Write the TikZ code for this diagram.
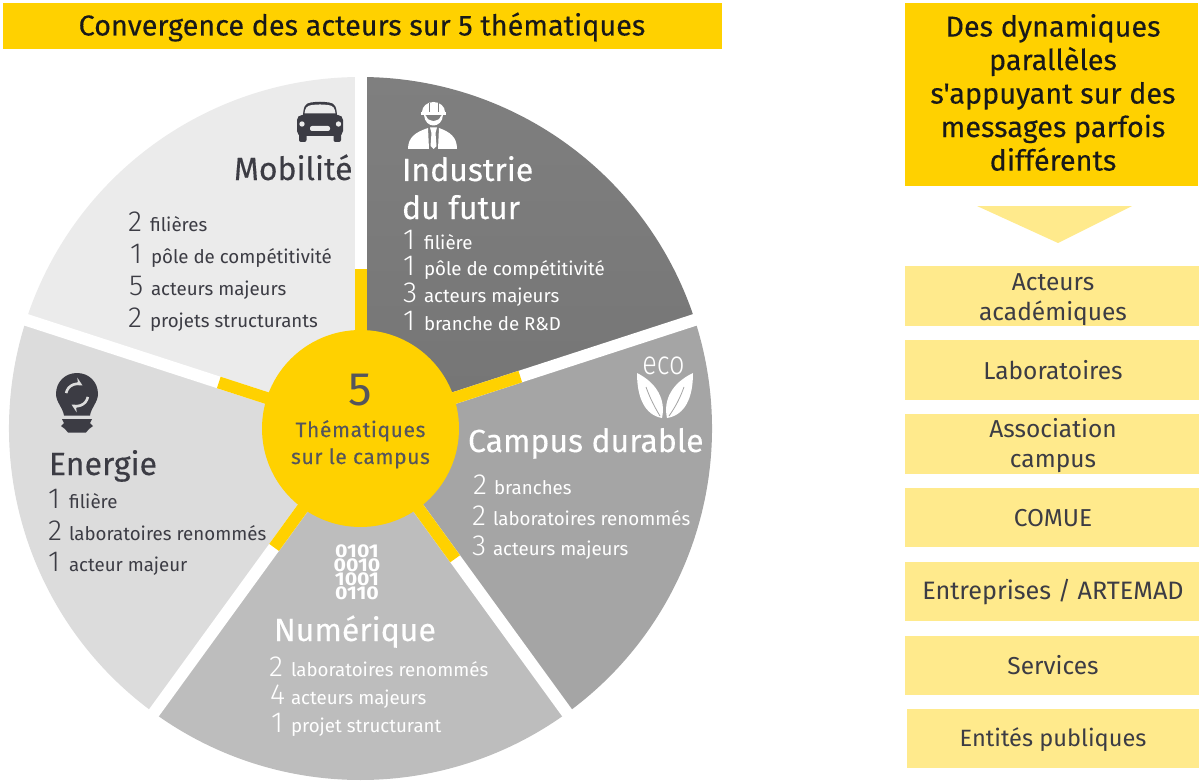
\documentclass[tikz,border=0pt]{standalone}
\usepackage{fontspec}
\setmainfont{Fira Sans}
\newfontfamily\lightf{Fira Sans Light}
\newfontfamily\semif[FakeBold=0.25]{Fira Sans}
\usetikzlibrary{calc}
\definecolor{eyyellow}{HTML}{FFD100}
\definecolor{paleyellow}{HTML}{FFEA8C}
\definecolor{inkgrey}{HTML}{3C3C44}
\definecolor{midink}{HTML}{55555C}
\definecolor{sliceA}{HTML}{EBEBEB}
\definecolor{sliceB}{HTML}{7F7F7F}
\definecolor{sliceBd}{HTML}{757575}
\definecolor{sliceC}{HTML}{A5A5A5}
\definecolor{sliceD}{HTML}{BDBDBD}
\definecolor{sliceE}{HTML}{DCDCDC}
\tikzset{
  every node/.style={inner sep=0pt,outer sep=0pt},
  headbox/.style={fill=eyyellow,draw=none},
  palebox/.style={fill=paleyellow,draw=none},
  boxtext/.style={font=\fontsize{24.5}{30}\selectfont,text=inkgrey,align=center,anchor=center},
  headtext/.style={font=\semif\fontsize{28.8}{33.5}\selectfont,text=black!90,align=center,anchor=center},
  title/.style={font=\semif\fontsize{32}{38}\selectfont,anchor=base west},
  item/.style={font=\fontsize{18.7}{22}\selectfont,anchor=base west},
  numb/.style={font=\lightf\fontsize{29}{30}\selectfont,anchor=base west},
  gapline/.style={draw=white,line width=12pt},
  spoke/.style={draw=eyyellow,line width=12pt},
}
\newcommand{\slice}[4]{\fill[#1] (c) -- ++(#2:351.5) arc[start angle=#2,end angle=#3,radius=351.5] -- cycle;}
\newcommand{\rowitem}[7]{% name, x-number, x-label, baseline, colour, number, label
  \node[numb,text=#5] (#1n) at (#2,#4-1) {#6};
  \node[item,text=#5] (#1t) at (#3,#4-1) {#7};}
\begin{document}
\begin{tikzpicture}[x=1pt,y=-1pt]
\useasboundingbox (0,0) rectangle (1200,781);
\coordinate (c) at (360.5,428.5);
% slices
\shade[top color=sliceB,bottom color=sliceBd] (c) -- ++(-90:351.5) arc[start angle=-90,end angle=-18,radius=351.5] -- cycle;
\slice{sliceC}{-18}{54}{}
\slice{sliceD}{54}{126}{}
\slice{sliceE}{126}{198}{}
\slice{sliceA}{198}{270}{}
% gaps and spokes
\foreach \n/\a/\r in {g1/-90/160,g2/-18/168,g3/54/161,g4/126/147,g5/198/149}{
  \coordinate (\n o) at ($(c)+(\a:356)$);
  \coordinate (\n s) at ($(c)+(\a:\r)$);
  \draw[gapline] (c) -- (\n o);
  \draw[spoke] (c) -- (\n s);
}
\node[circle,fill=eyyellow,minimum size=197pt] (hub) at (c) {};
\node[font=\fontsize{47}{47}\selectfont,text=midink,anchor=base] (five) at (360.5,405) {5};
\node[font=\semif\fontsize{21}{26}\selectfont\addfontfeatures{LetterSpace=3},text=midink,anchor=base] (them) at (360.5,437) {Thématiques};
\node[font=\semif\fontsize{21}{26}\selectfont\addfontfeatures{LetterSpace=3},text=midink,anchor=base] (surl) at (360.5,464) {sur le campus};
% headers
\fill[headbox] (3,3) rectangle (722,49);
\node[headtext] (h1) at (362,27) {Convergence des acteurs sur 5 thématiques};
\fill[headbox] (905,3) rectangle (1198,186);
\node[headtext] (h2) at (1053,92.5) {Des dynamiques\\parallèles\\s'appuyant sur des\\messages parfois\\différents};
\fill[paleyellow] (977,206) -- (1132,206) -- (1058,243) -- cycle;
% right boxes
\foreach \n/\xa/\ya/\yb in {b1/905/266/326,b2/905/340/400,b3/905/414/474,b4/905/488/547,b5/905/562/621,b6/905/636/695,b7/907/709/768}{
  \fill[palebox] (\xa,\ya) rectangle (1199,\yb);
}
\node[boxtext] (t1) at (1053,299.5) {Acteurs\\académiques};
\node[boxtext] (t2) at (1053,370) {Laboratoires};
\node[boxtext] (t3) at (1053,446) {Association\\campus};
\node[boxtext] (t4) at (1053,518) {COMUE};
\node[boxtext,font=\fontsize{25.2}{30}\selectfont] (t5) at (1053,592) {Entreprises / ARTEMAD};
\node[boxtext] (t6) at (1053,665) {Services};
\node[boxtext,font=\fontsize{23.6}{30}\selectfont] (t7) at (1053,740) {Entités publiques};
% Mobilite
\node[title,text=inkgrey] (mob) at (234,180) {Mobilité};
\rowitem{ma}{128}{150}{232}{inkgrey}{2}{filières}
\rowitem{mb}{130}{151}{264}{inkgrey}{1}{pôle de compétitivité}
\rowitem{mc}{129}{151}{296}{inkgrey}{5}{acteurs majeurs}
\rowitem{md}{128}{150}{328}{inkgrey}{2}{projets structurants}
% Industrie
\node[title,text=white] (ind) at (402,181) {Industrie};
\node[title,text=white] (duf) at (402,219) {du futur};
\rowitem{ia}{403}{424}{250}{white}{1}{filière}
\rowitem{ib}{403}{424}{276}{white}{1}{pôle de compétitivité}
\rowitem{ic}{403}{424}{303}{white}{3}{acteurs majeurs}
\rowitem{id}{403}{424}{331}{white}{1}{branche de R\&D}
% Campus
\node[title,text=white] (cam) at (468,452) {Campus durable};
\rowitem{ca}{473}{494}{495}{white}{2}{branches}
\rowitem{cb}{472}{493}{526}{white}{2}{laboratoires renommés}
\rowitem{cc}{472}{493}{556}{white}{3}{acteurs majeurs}
% Numerique
\node[title,text=white] (num) at (274,641) {Numérique};
\rowitem{na}{269}{291}{677}{white}{2}{laboratoires renommés}
\rowitem{nb}{270}{291}{705}{white}{4}{acteurs majeurs}
\rowitem{nc}{271}{291}{733}{white}{1}{projet structurant}
% Energie
\node[title,text=inkgrey] (ene) at (49,475) {Energie};
\rowitem{ea}{48}{69}{509}{inkgrey}{1}{filière}
\rowitem{eb}{48}{69}{541}{inkgrey}{2}{laboratoires renommés}
\rowitem{ec}{48}{69}{572}{inkgrey}{1}{acteur majeur}
% binary icon
\node[font=\bfseries\fontsize{18.5}{12.8}\selectfont,text=white,align=center,xscale=1.15] (bin) at (357,572) {0101\\0010\\1001\\0110};
% eco icon
\node[font=\lightf\fontsize{33}{33}\selectfont,text=white,xscale=.82] (eco) at (663.5,366) {eco};
\fill[white] (637,373) .. controls (637,398) and (645,415) .. (662,418) .. controls (666,400) and (657,383) .. (637,373) -- cycle;
\fill[white] (693,373) .. controls (693,398) and (685,415) .. (667,418) .. controls (663,400) and (672,383) .. (693,373) -- cycle;
\draw[sliceC,line width=.8pt] (646,387) .. controls (650,398) and (654,406) .. (660,416);
\draw[sliceC,line width=.8pt] (684,387) .. controls (680,398) and (676,406) .. (669,416);
% car icon
\fill[inkgrey] (303,118) .. controls (303,107) and (305,103) .. (311,102.5) .. controls (318,101.5) and (322,101.5) .. (329,102.5) .. controls (335,103) and (337,107) .. (337,118) -- cycle;
\fill[inkgrey,rounded corners=5pt] (297,115) rectangle (343,136);
\fill[inkgrey,rounded corners=2pt] (299,130) rectangle (306.5,142);
\fill[inkgrey,rounded corners=2pt] (333.5,130) rectangle (341,142);
\fill[sliceA] (304.5,113.5) .. controls (305,108) and (307,105.5) .. (312,105) .. controls (318,104.3) and (322,104.3) .. (328,105) .. controls (333,105.5) and (335,108) .. (335.5,113.5) -- cycle;
\fill[sliceA,rounded corners=2pt] (310,126) rectangle (330,131);
\fill[sliceA] (302,124) circle[radius=2.7];
\fill[sliceA] (338.5,124) circle[radius=2.7];
% engineer icon
\fill[white] (422,112) arc[start angle=180,end angle=360,x radius=11.5,y radius=10] -- cycle;
\fill[white] (421,112) rectangle (446,115);
\draw[sliceB,line width=.8pt] (429,103) -- (429,112) (438,103) -- (438,112);
\fill[white] (424,115) .. controls (425,129) and (442,129) .. (443,115) -- (441,115.5) .. controls (439,123) and (428,123) .. (426,115.5) -- cycle;
\fill[white] (408,149) .. controls (408,137) and (416,132) .. (428,128) -- (429,149) -- cycle;
\fill[white] (457,149) .. controls (457,137) and (450,132) .. (439,128) -- (438,149) -- cycle;
\fill[white] (430,127.5) -- (437,127.5) -- (435.5,133) -- (436.5,146) -- (433.5,149) -- (430.5,146) -- (431.5,133) -- cycle;
% bulb icon
\fill[inkgrey] (77,373) .. controls (89,373) and (98,382) .. (98,394) .. controls (98,402) and (91,408) .. (90,415.5) -- (64,415.5) .. controls (63,408) and (56,402) .. (56,394) .. controls (56,382) and (65,373) .. (77,373) -- cycle;
\fill[inkgrey] (62,419) -- (92,419) -- (90,423) -- (93,426) -- (89,429) -- (86,432.5) -- (68,432.5) -- (65,429) -- (61,426) -- (64,423) -- cycle;
\draw[sliceE,line width=2.6pt,-stealth] (77,395) ++(-170:11) arc[start angle=-170,end angle=-60,radius=11];
\draw[sliceE,line width=2.6pt,-stealth] (77,395) ++(10:11) arc[start angle=10,end angle=120,radius=11];
\end{tikzpicture}
\end{document}
